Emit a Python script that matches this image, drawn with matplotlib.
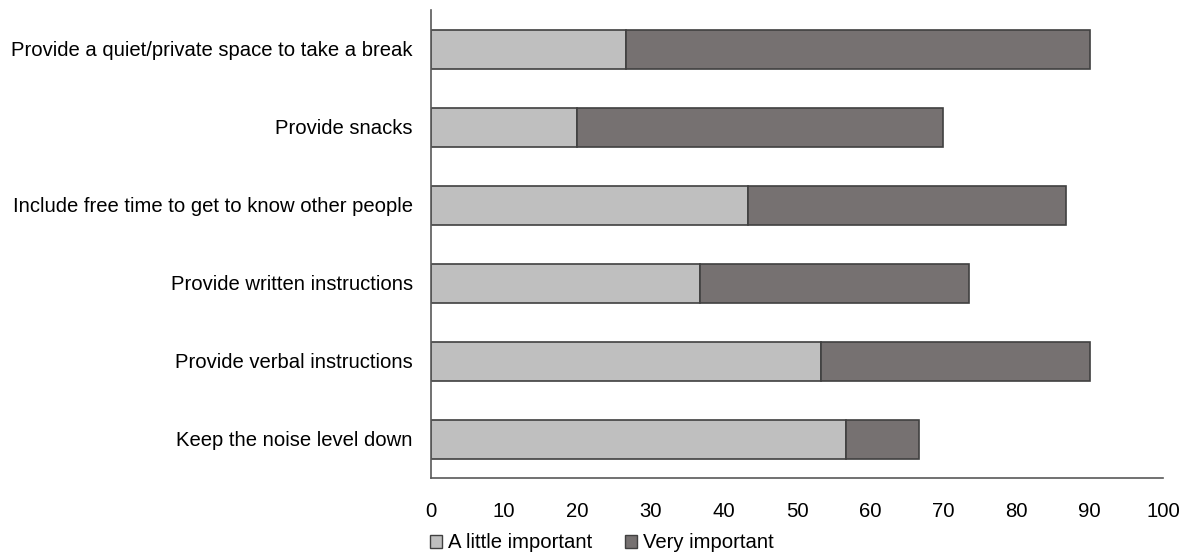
import matplotlib.pyplot as plt
import numpy as np
from matplotlib.patches import Patch

plt.rcParams['font.family'] = ['Liberation Sans', 'DejaVu Sans']

categories = [
    "Provide a quiet/private space to take a break",
    "Provide snacks",
    "Include free time to get to know other people",
    "Provide written instructions",
    "Provide verbal instructions",
    "Keep the noise level down",
]
little_important = [26.7, 20.0, 43.3, 36.7, 53.3, 56.7]
very_important = [63.3, 50.0, 43.4, 36.8, 36.7, 10.0]
series_names = ["A little important", "Very important"]
x_ticks = [0, 10, 20, 30, 40, 50, 60, 70, 80, 90, 100]

light = "#BFBFBF"
dark = "#767171"
edge = "#404040"
fs = 14.6

fig = plt.figure(figsize=(11.88, 5.56), dpi=100)
ax = fig.add_axes([431 / 1188, 1 - 478 / 556, 732 / 1188, 468 / 556])

y = np.arange(len(categories))[::-1]
ax.barh(y, little_important, height=0.5, color=light, edgecolor=edge, linewidth=1.2)
ax.barh(y, very_important, left=little_important, height=0.5, color=dark,
        edgecolor=edge, linewidth=1.2)

ax.set_xlim(0, 100)
ax.set_ylim(-0.5, len(categories) - 0.5)
ax.set_xticks(x_ticks)
ax.set_yticks(y)
ax.set_yticklabels(categories)
ax.tick_params(axis='both', length=0, labelsize=fs, colors='black')
ax.tick_params(axis='x', pad=17)
ax.tick_params(axis='y', pad=13)

for side in ['top', 'right']:
    ax.spines[side].set_visible(False)
for side in ['left', 'bottom']:
    ax.spines[side].set_color('#595959')
    ax.spines[side].set_linewidth(1.2)

handles = [Patch(facecolor=light, edgecolor=edge, label=series_names[0]),
           Patch(facecolor=dark, edgecolor=edge, label=series_names[1])]
fig.legend(handles=handles, loc='center', bbox_to_anchor=(602 / 1188, 1 - 543 / 556),
           ncol=2, frameon=False, fontsize=fs, handlelength=0.6, handleheight=0.6,
           handletextpad=0.3, columnspacing=1.6)

fig.savefig("out.png", dpi=100)
